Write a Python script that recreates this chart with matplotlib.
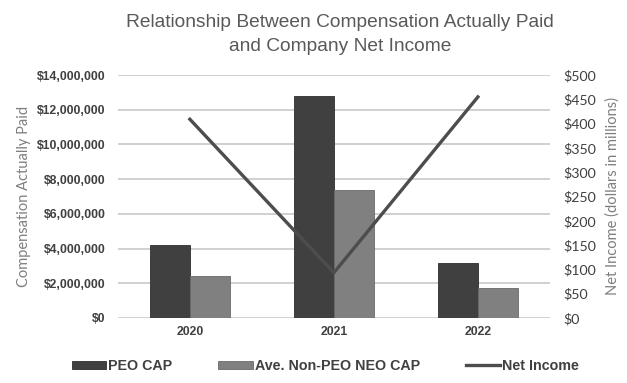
import matplotlib.pyplot as plt
import numpy as np
from matplotlib.ticker import FuncFormatter

# data
years = ['2020', '2021', '2022']
peo_cap = [4200000, 12800000, 3170000]
non_peo_cap = [2420000, 7370000, 1730000]
net_income = [409, 93, 455]  # dollars in millions

dark = '#404040'
mid = '#808080'
line_c = '#4d4d4d'
label_c = '#7f7f7f'

fig = plt.figure(figsize=(6.27, 3.83), dpi=100)
ax = fig.add_axes([0.188, 0.170, 0.689, 0.634])

x = np.arange(len(years))
w = 0.28
ax.bar(x - w / 2, peo_cap, w, color=dark, edgecolor='#2e2e2e', lw=0.6, label='PEO CAP', zorder=3)
ax.bar(x + w / 2, non_peo_cap, w, color=mid, edgecolor='#6a6a6a', lw=0.6, label='Ave. Non-PEO NEO CAP', zorder=3)

ax.set_xlim(-0.5, 2.5)
ax.set_ylim(0, 14000000)
ax.set_yticks(np.arange(0, 14000001, 2000000))
ax.yaxis.set_major_formatter(FuncFormatter(lambda v, p: '${:,.0f}'.format(v)))
ax.set_xticks(x)
ax.set_xticklabels(years)
ax.grid(axis='y', color='#c8c8c8', lw=1.2, zorder=0)
for s in ax.spines.values():
    s.set_visible(False)
ax.tick_params(axis='y', length=0, pad=9, labelsize=8.8, labelcolor='#404040')
ax.tick_params(axis='x', length=0, pad=6, labelsize=8.8, labelcolor='#404040')
for t in ax.get_yticklabels() + ax.get_xticklabels():
    t.set_fontweight('bold')
    t.set_fontfamily('Liberation Sans')
ax.set_ylabel('Compensation Actually Paid', color=label_c, fontsize=10.5,
              fontfamily='Lato', labelpad=4)

# net income on the secondary axis
ax2 = ax.twinx()
ax2.plot(x, net_income, color=line_c, lw=2.4, label='Net Income', zorder=4)
ax2.set_ylim(0, 500)
ax2.set_yticks(np.arange(0, 501, 50))
ax2.yaxis.set_major_formatter(FuncFormatter(lambda v, p: '${:.0f}'.format(v)))
for s in ax2.spines.values():
    s.set_visible(False)
ax2.tick_params(axis='y', length=0, pad=10, labelsize=10.2, labelcolor='#404040')
for t in ax2.get_yticklabels():
    t.set_fontfamily('Lato')
ax2.set_ylabel('Net Income (dollars in millions)', color=label_c, fontsize=10.5,
               fontfamily='Lato', labelpad=6)

fig.suptitle('Relationship Between Compensation Actually Paid\nand Company Net Income',
             x=0.542, y=0.964, va='top', fontsize=13.8, color='#595959',
             fontfamily='Liberation Sans', linespacing=1.52)

h1, l1 = ax.get_legend_handles_labels()
h2, l2 = ax2.get_legend_handles_labels()
leg = fig.legend(h1 + h2, l1 + l2, loc='center', bbox_to_anchor=(0.519, 0.045), ncol=3,
                 frameon=False, handlelength=2.4, handleheight=0.45, columnspacing=3.2,
                 handletextpad=0.15,
                 prop={'family': 'Liberation Sans', 'weight': 'bold', 'size': 10.3})
for t in leg.get_texts():
    t.set_color('#404040')

fig.savefig('out.png', dpi=100)
